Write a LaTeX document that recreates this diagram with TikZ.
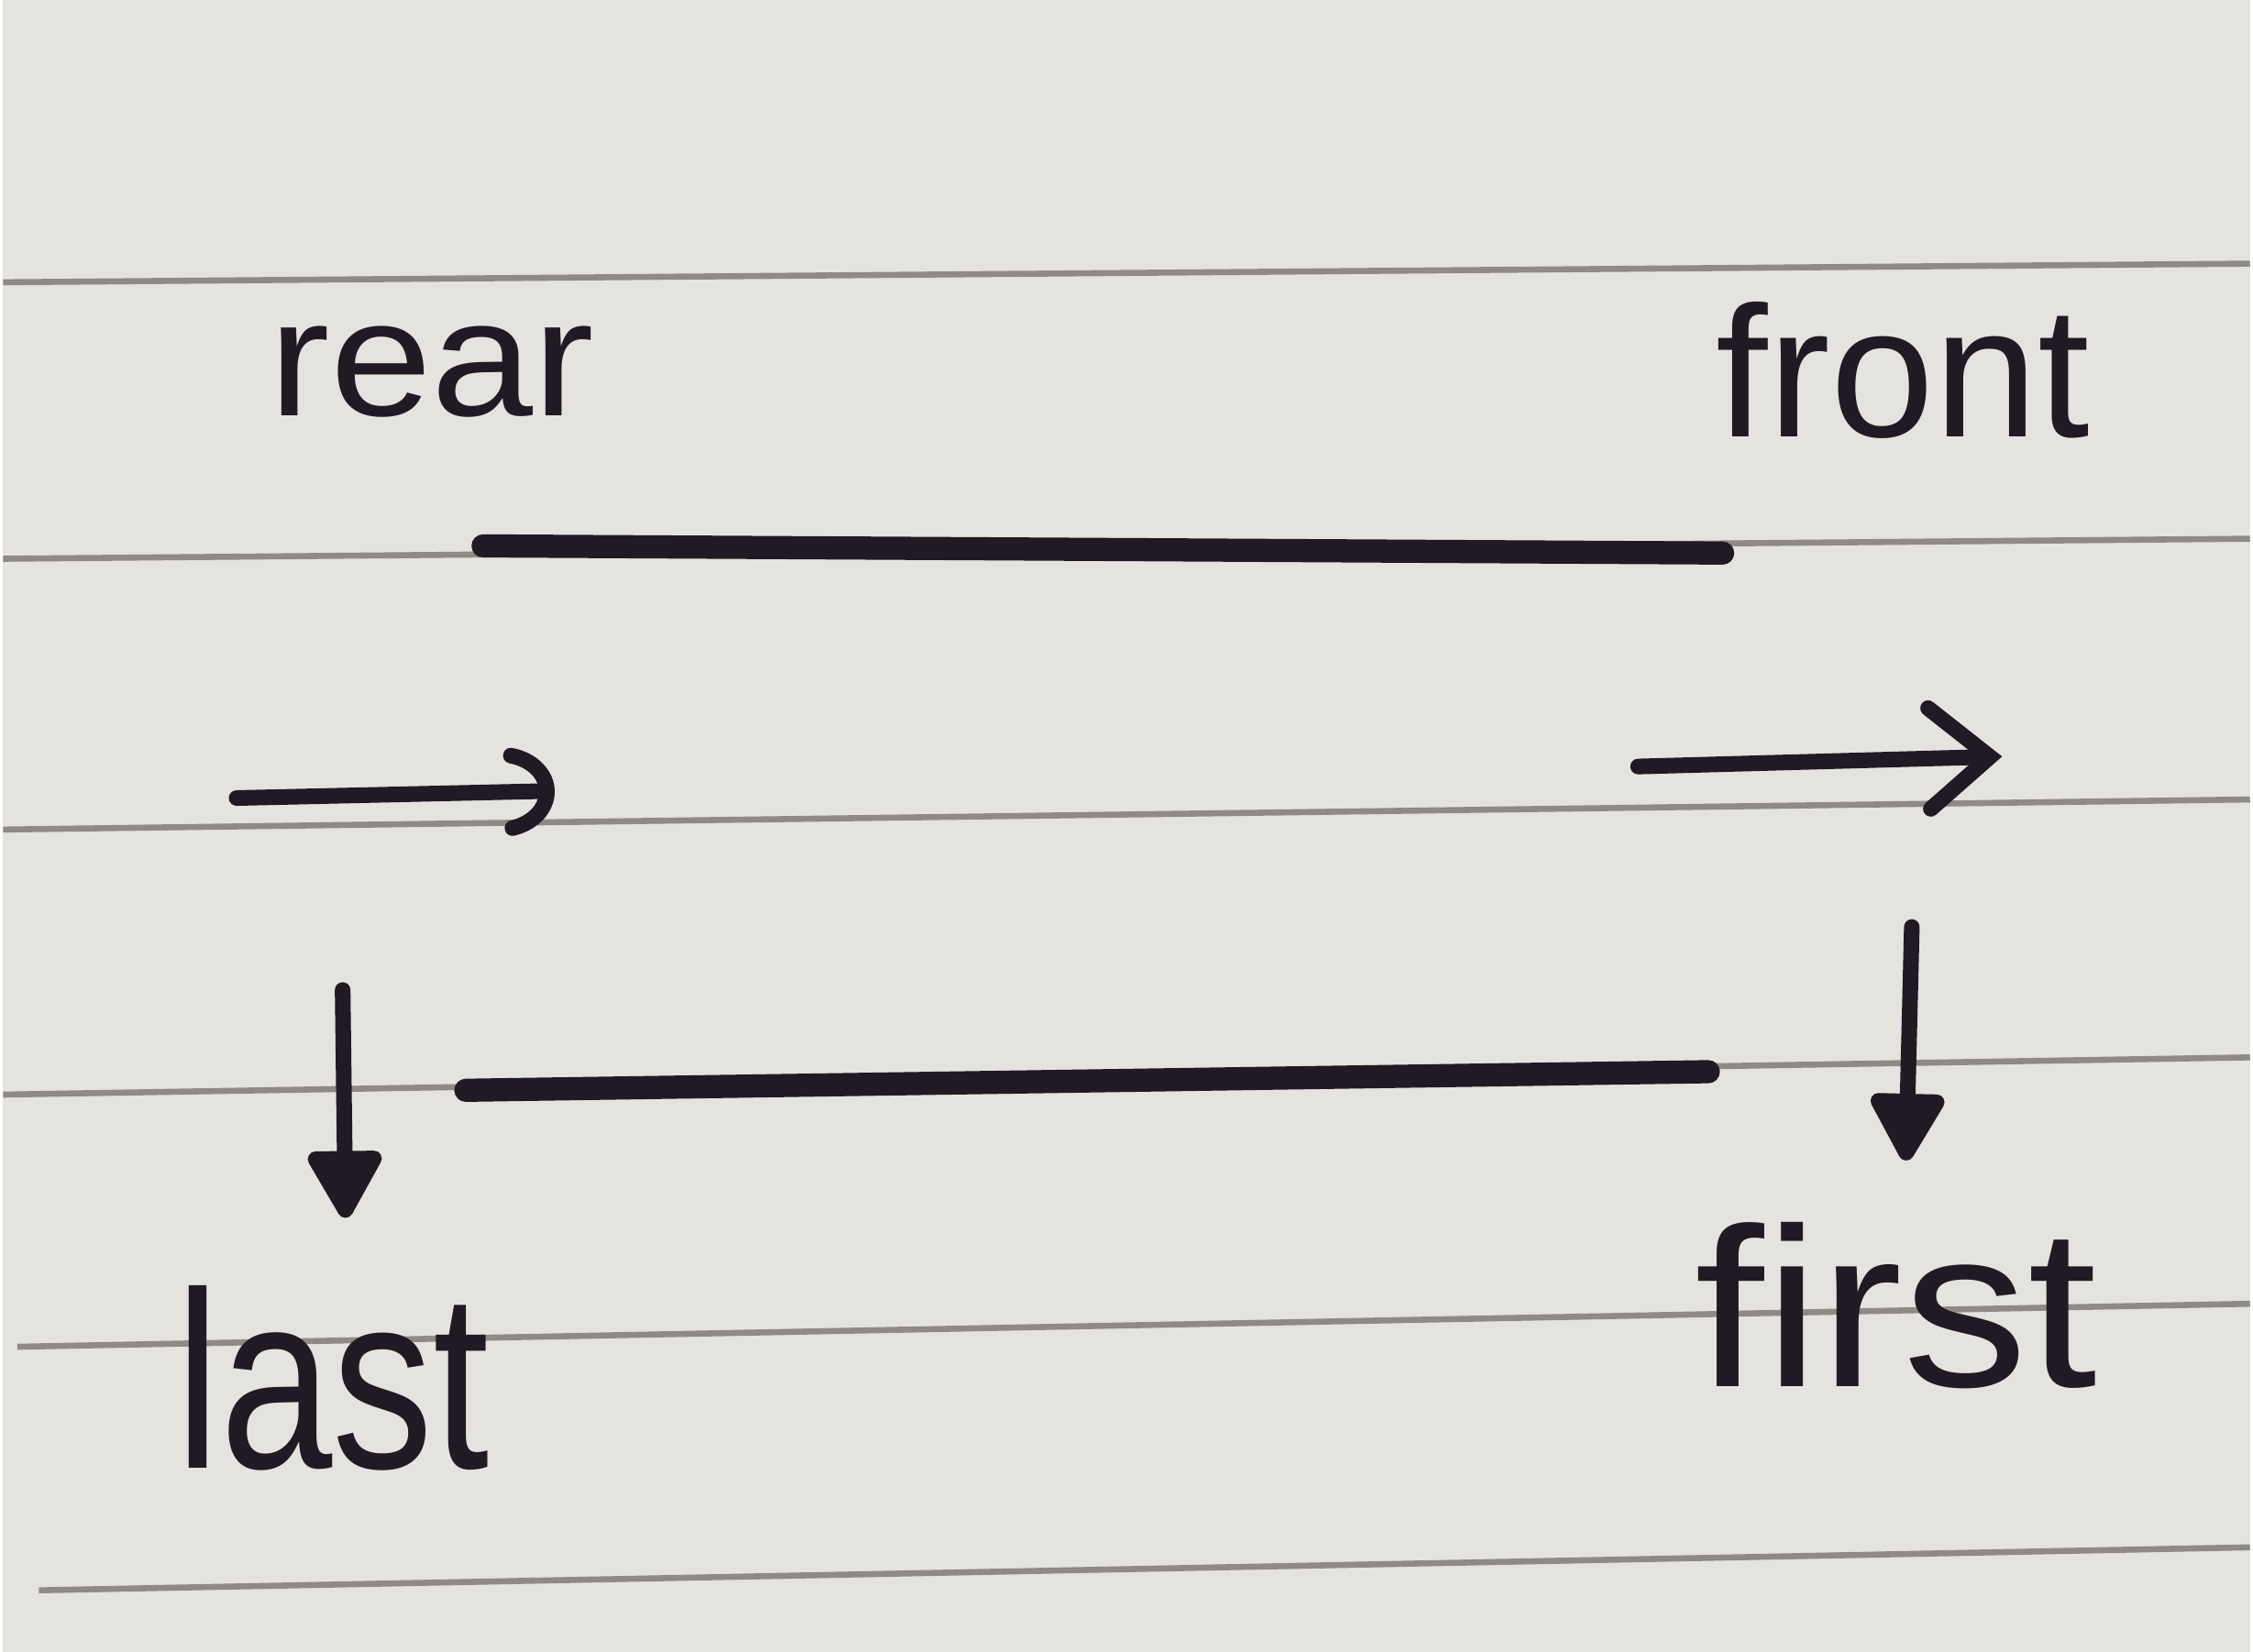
\documentclass[tikz,border=0pt]{standalone}
\usepackage{fontspec}
\setmainfont{Liberation Sans}
\usetikzlibrary{arrows.meta}
\definecolor{paper}{HTML}{E4E3DF}
\definecolor{rulecol}{HTML}{8E8B86}
\definecolor{ink}{HTML}{1F1A24}
\begin{document}
\begin{tikzpicture}[x=0.01cm,y=-0.01cm,
  ruling/.style={draw=rulecol,line width=1.2pt},
  queueline/.style={draw=ink,line width=4.6pt,line cap=round},
  curvedarrow/.style={draw=ink,line width=3.1pt,line cap=round,
    -{Arc Barb[length=11pt,width=18pt,arc=150,line cap=round]}},
  barbarrow/.style={draw=ink,line width=3.1pt,line cap=round,
    -{Straight Barb[length=12pt,width=20pt,line cap=round]}},
  downarrow/.style={draw=ink,line width=3.1pt,line cap=round,
    -{Triangle[length=15pt,width=16pt,round]}},
  lbl/.style={text=ink,inner sep=0pt,anchor=base west}]
% paper
\fill[paper] (0,0) rectangle (1568,1153);
\draw[ruling] (0,197) -- (1568,184);
\draw[ruling] (0,390) -- (1568,376);
\draw[ruling] (0,579) -- (1568,558);
\draw[ruling] (0,764) -- (1568,738);
\draw[ruling] (10,940) -- (1568,910);
\draw[ruling] (25,1110) -- (1568,1080);
% labels
\node[lbl,xscale=1.1] (rear) at (185,290) {\fontsize{33pt}{33pt}\selectfont rear};
\node[lbl] (front) at (1195,305) {\fontsize{37pt}{37pt}\selectfont front};
\node[lbl,xscale=0.8] (last) at (120,1025) {\fontsize{50pt}{50pt}\selectfont last};
\node[lbl,xscale=1.1] (first) at (1180,968) {\fontsize{45pt}{45pt}\selectfont first};
% queue walls
\coordinate (topL) at (335,381);
\coordinate (topR) at (1200,386);
\coordinate (botL) at (323,761);
\coordinate (botR) at (1190,748);
\draw[queueline] (topL) -- (topR);
\draw[queueline] (botL) -- (botR);
% direction arrows
\coordinate (inS) at (163,557);
\coordinate (inE) at (385,552);
\coordinate (outS) at (1141,535);
\coordinate (outE) at (1395,528);
\draw[curvedarrow] (inS) -- (inE);
\draw[barbarrow] (outS) -- (outE);
% down arrows
\coordinate (lastS) at (237,691);
\coordinate (lastE) at (239,850);
\coordinate (firstS) at (1332,647);
\coordinate (firstE) at (1328,810);
\draw[downarrow] (lastS) -- (lastE);
\draw[downarrow] (firstS) -- (firstE);
\end{tikzpicture}
\end{document}
